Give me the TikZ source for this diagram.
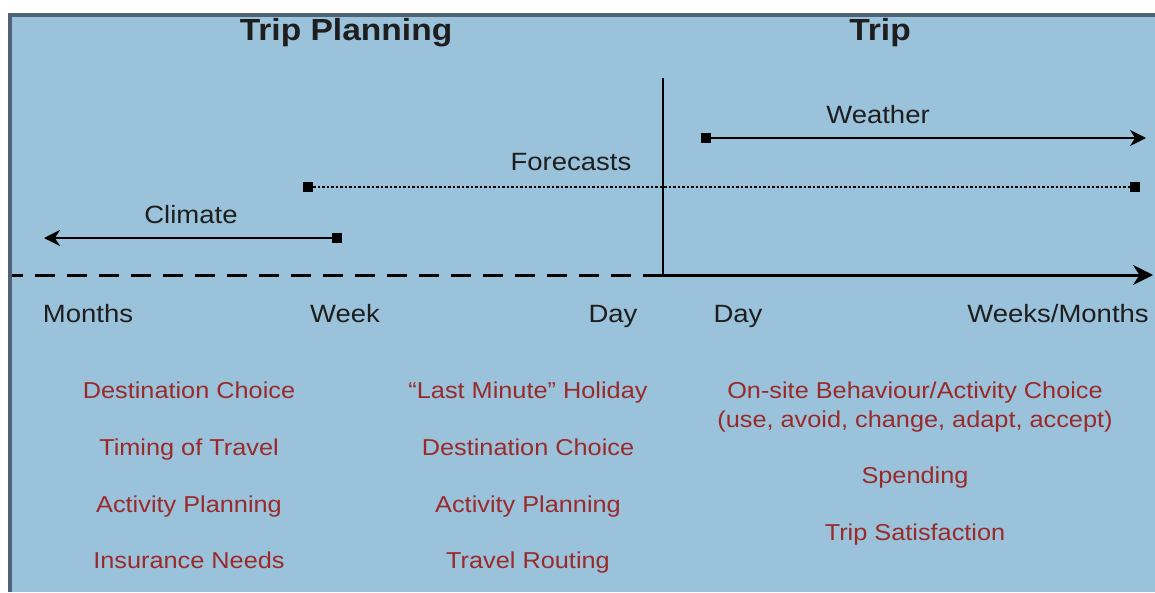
\documentclass[tikz,border=0pt]{standalone}
\usepackage{fontspec}
\setmainfont{Liberation Sans}
\usepackage{graphicx}
\usetikzlibrary{arrows.meta}
\definecolor{bgblue}{HTML}{9BC2DB}
\definecolor{framecol}{HTML}{4E6476}
\definecolor{lbl}{HTML}{1E1E1E}
\definecolor{itemred}{HTML}{9A2A2A}
\newcommand{\wide}[1]{\scalebox{1.1}[1]{#1}}
\begin{document}
\begin{tikzpicture}[x=1pt,y=-1pt,
  title/.style={font=\fontsize{30.5}{34}\selectfont\bfseries, text=lbl, inner sep=0pt, anchor=base},
  lab/.style={font=\fontsize{25}{28}\selectfont, text=lbl, inner sep=0pt, anchor=base},
  item/.style={font=\fontsize{23}{26}\selectfont, text=itemred, inner sep=0pt, anchor=base},
  endsq/.style={fill=black, draw=none, minimum size=10pt, inner sep=0pt},
  thinline/.style={line width=2.5pt, draw=black},
  axisline/.style={line width=3pt, draw=black}]
\useasboundingbox (0,0) rectangle (1155,592);
\fill[white] (0,0) rectangle (1155,592);
\fill[framecol] (8,13) rectangle (1155,592);
\fill[bgblue] (12,16.5) rectangle (1155,592);
% titles
\node[title] (tp) at (346,40) {\wide{Trip Planning}};
\node[title] (tt) at (880,40) {\wide{Trip}};
% axis
\coordinate (vtop) at (663,78);
\coordinate (vbot) at (663,275);
\coordinate (axl) at (12,275);
\coordinate (axr) at (1153,275);
\draw[axisline, dash pattern=on 20pt off 12pt] (vbot) -- (axl);
\draw[axisline, -{Stealth[length=20pt,width=20pt]}] (vbot) -- (axr);
\draw[thinline] (vtop) -- (vbot);
% weather
\node[endsq] (wsq) at (706,138) {};
\coordinate (wend) at (1146,138);
\draw[thinline, -{Stealth[length=16pt,width=16pt]}] (wsq) -- (wend);
\node[lab] (wl) at (878,123) {\wide{Weather}};
% forecasts
\node[endsq] (fsq1) at (308,187) {};
\node[endsq] (fsq2) at (1135,187) {};
\draw[line width=2pt, dash pattern=on 2.5pt off 2pt] (fsq1) -- (fsq2);
\node[lab] (fl) at (571,170) {\wide{Forecasts}};
% climate
\node[endsq] (csq) at (337,238) {};
\coordinate (cend) at (44,238);
\draw[thinline, -{Stealth[length=16pt,width=16pt]}] (csq) -- (cend);
\node[lab] (cl) at (191,223) {\wide{Climate}};
% axis labels
\node[lab] (m1) at (88,322) {\wide{Months}};
\node[lab] (m2) at (345,322) {\wide{Week}};
\node[lab] (m3) at (613,322) {\wide{Day}};
\node[lab] (m4) at (738,322) {\wide{Day}};
\node[lab] (m5) at (1058,322) {\wide{Weeks/Months}};
% column 1
\node[item] (a1) at (189,398) {\wide{Destination Choice}};
\node[item] (a2) at (189,455) {\wide{Timing of Travel}};
\node[item] (a3) at (189,512) {\wide{Activity Planning}};
\node[item] (a4) at (189,568) {\wide{Insurance Needs}};
% column 2
\node[item] (b1) at (528,398) {\wide{“Last Minute” Holiday}};
\node[item] (b2) at (528,455) {\wide{Destination Choice}};
\node[item] (b3) at (528,512) {\wide{Activity Planning}};
\node[item] (b4) at (528,568) {\wide{Travel Routing}};
% column 3
\node[item] (c1) at (915,398) {\wide{On-site Behaviour/Activity Choice}};
\node[item] (c2) at (915,427) {\wide{(use, avoid, change, adapt, accept)}};
\node[item] (c3) at (915,483) {\wide{Spending}};
\node[item] (c4) at (915,540) {\wide{Trip Satisfaction}};
\end{tikzpicture}
\end{document}
